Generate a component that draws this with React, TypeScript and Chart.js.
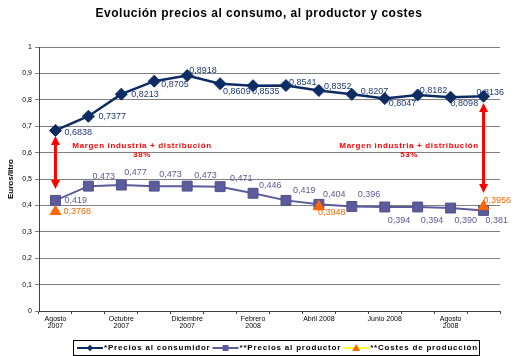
import React, { useEffect, useRef } from 'react';
import { Chart, registerables } from 'chart.js';

Chart.register(...registerables);

const FONT = '"Liberation Sans", Arial, sans-serif';

const chartTitle = 'Evolución precios al consumo, al productor y costes';
const yAxisTitle = 'Euros/litro';

const categories: (string | string[])[] = [
  ['Agosto', '2007'], '', ['Octubre', '2007'], '', ['Diciembre', '2007'], '',
  ['Febrero', '2008'], '', 'Abril 2008', '', 'Junio 2008', '', ['Agosto', '2008'], '',
];

const consumerPrices = [0.6838, 0.7377, 0.8213, 0.8705, 0.8918, 0.8609, 0.8535, 0.8541, 0.8352, 0.8207, 0.8047, 0.8182, 0.8098, 0.8136];
const producerPrices = [0.419, 0.473, 0.477, 0.473, 0.473, 0.471, 0.446, 0.419, 0.404, 0.396, 0.394, 0.394, 0.390, 0.381];
const productionCosts = [0.3768, null, null, null, null, null, null, null, 0.3948, null, null, null, null, 0.3956];

const seriesNames = ['*Precios al consumidor', '**Precios al productor', '**Costes de producción'];

const yMin = 0;
const yMax = 1;
const yStep = 0.1;

const marginNotes = [
  { index: 0, top: 0.663, bottom: 0.462, textIndex: 2.63, textValue: 0.625, label: 'Margen industria + distribución', pct: '38%' },
  { index: 13, top: 0.788, bottom: 0.447, textIndex: 10.74, textValue: 0.627, label: 'Margen industria + distribución', pct: '53%' },
];

// styling: label offsets (dx to text start, dy to text middle) relative to each point
const consumerLabelOffsets = [[9, 2], [10, 0], [10, 0], [7, 3], [2, -5], [3, 8], [-1, 6], [3, -3], [5, -4], [9, -3], [4, 5], [2, -4], [0, 6], [-7, -4]];
const producerLabelOffsets = [[9, 0], [4, -10], [3, -13], [5, -12], [7, -11], [10, -8], [6, -8], [7, -10], [4, -10], [6, -12], [3, 14], [3, 14], [4, 12], [2, 10]];
const costLabelOffsets = [[8, 0], null, null, null, null, null, null, null, [-1, 6], null, null, null, null, [0, -6]];

const COL_CONS = '#0c2c63';
const COL_PROD = '#5c5c9c';
const COL_COST_LINE = '#ffff33';
const COL_COST = '#ff6600';
const COL_RED = '#ff0000';

const labelStyles = [
  { color: '#1e3a73', decimals: 4, offsets: consumerLabelOffsets },
  { color: '#5a5a98', decimals: 3, offsets: producerLabelOffsets },
  { color: '#ff6600', decimals: 4, offsets: costLabelOffsets },
];

const fmt = (v: number, d: number) => v.toFixed(d).replace('.', ',');

const pointLabelsPlugin = {
  id: 'pointLabels',
  afterDatasetsDraw(chart: any) {
    const ctx = chart.ctx;
    ctx.save();
    ctx.font = `9px ${FONT}`;
    ctx.textAlign = 'left';
    ctx.textBaseline = 'middle';
    chart.data.datasets.forEach((ds: any, di: number) => {
      const meta = chart.getDatasetMeta(di);
      const st = labelStyles[di];
      meta.data.forEach((pt: any, i: number) => {
        const v = ds.data[i];
        const off = st.offsets[i];
        if (v == null || !off) return;
        ctx.fillStyle = st.color;
        ctx.fillText(fmt(v, st.decimals), pt.x + off[0], pt.y + off[1]);
      });
    });
    ctx.restore();
  },
};

function drawDoubleArrow(ctx: CanvasRenderingContext2D, x: number, yTop: number, yBot: number) {
  const head = 9;
  const hw = 4.5;
  ctx.strokeStyle = COL_RED;
  ctx.fillStyle = COL_RED;
  ctx.lineWidth = 3;
  ctx.beginPath();
  ctx.moveTo(x, yTop + head - 1);
  ctx.lineTo(x, yBot - head + 1);
  ctx.stroke();
  ctx.beginPath();
  ctx.moveTo(x, yTop);
  ctx.lineTo(x - hw, yTop + head);
  ctx.lineTo(x + hw, yTop + head);
  ctx.closePath();
  ctx.fill();
  ctx.beginPath();
  ctx.moveTo(x, yBot);
  ctx.lineTo(x - hw, yBot - head);
  ctx.lineTo(x + hw, yBot - head);
  ctx.closePath();
  ctx.fill();
}

const annotationsPlugin = {
  id: 'marginNotes',
  afterDatasetsDraw(chart: any) {
    const ctx = chart.ctx as CanvasRenderingContext2D;
    const xs = chart.scales.x;
    const ys = chart.scales.y;
    ctx.save();
    marginNotes.forEach((n) => {
      const x = xs.getPixelForValue(n.index);
      drawDoubleArrow(ctx, x, ys.getPixelForValue(n.top), ys.getPixelForValue(n.bottom));
      const tx = xs.getPixelForValue(n.textIndex);
      const ty = ys.getPixelForValue(n.textValue);
      ctx.fillStyle = COL_RED;
      ctx.font = `bold 8px ${FONT}`;
      (ctx as any).letterSpacing = '0.65px';
      ctx.textAlign = 'center';
      ctx.textBaseline = 'middle';
      ctx.fillText(n.label, tx, ty);
      ctx.fillText(n.pct, tx, ty + 9);
    });
    ctx.restore();
  },
};

function drawMarker(ctx: CanvasRenderingContext2D, kind: string, x: number, y: number, color: string) {
  ctx.fillStyle = color;
  ctx.beginPath();
  if (kind === 'rectRot') {
    const r = 3.2;
    ctx.moveTo(x, y - r); ctx.lineTo(x + r, y); ctx.lineTo(x, y + r); ctx.lineTo(x - r, y);
  } else if (kind === 'rect') {
    ctx.rect(x - 3, y - 3, 6, 6);
  } else {
    ctx.moveTo(x, y - 4); ctx.lineTo(x + 4, y + 3); ctx.lineTo(x - 4, y + 3);
  }
  ctx.closePath();
  ctx.fill();
}

const titleLegendPlugin = {
  id: 'titleLegend',
  afterDraw(chart: any) {
    const ctx = chart.ctx as CanvasRenderingContext2D;
    ctx.save();
    ctx.fillStyle = '#000';
    ctx.font = `bold 12px ${FONT}`;
    (ctx as any).letterSpacing = '0.5px';
    ctx.textAlign = 'center';
    ctx.textBaseline = 'middle';
    ctx.fillText(chartTitle, 259, 14);
    const items = chart.data.datasets.map((ds: any) => ({
      text: ds.label,
      line: ds.legendLine,
      marker: ds.pointStyle,
      mcolor: ds.pointBackgroundColor,
    }));
    const top = 340.5, h = 15, left = 73.5, right = 479.5;
    ctx.strokeStyle = '#000';
    ctx.lineWidth = 1;
    ctx.strokeRect(left, top, right - left, h);
    const cy = top + h / 2;
    ctx.font = `bold 8px ${FONT}`;
    (ctx as any).letterSpacing = '0.8px';
    ctx.textAlign = 'left';
    let x = 77;
    items.forEach((it: any) => {
      ctx.strokeStyle = it.line;
      ctx.lineWidth = 2;
      ctx.beginPath();
      ctx.moveTo(x, cy);
      ctx.lineTo(x + 26, cy);
      ctx.stroke();
      drawMarker(ctx, it.marker, x + 13, cy, it.mcolor);
      ctx.fillStyle = '#000';
      ctx.fillText(it.text, x + 27, cy);
      x += 27 + ctx.measureText(it.text).width + 2;
    });
    ctx.restore();
  },
};

export default function App() {
  const ref = useRef<HTMLCanvasElement | null>(null);
  useEffect(() => {
    if (!ref.current) return;
    Chart.defaults.font.family = FONT;
    const chart = new Chart(ref.current, {
      type: 'line',
      data: {
        labels: categories,
        datasets: [
          {
            label: seriesNames[0],
            data: consumerPrices,
            borderColor: COL_CONS,
            backgroundColor: COL_CONS,
            pointStyle: 'rectRot',
            pointRadius: 6,
            pointBackgroundColor: COL_CONS,
            pointBorderColor: COL_CONS,
            pointBorderWidth: 1,
            borderWidth: 2.5,
            order: 2,
            legendLine: COL_CONS,
          } as any,
          {
            label: seriesNames[1],
            data: producerPrices,
            borderColor: COL_PROD,
            backgroundColor: COL_PROD,
            pointStyle: 'rect',
            pointRadius: 7,
            pointBackgroundColor: COL_PROD,
            pointBorderColor: '#4f4f8a',
            pointBorderWidth: 1,
            borderWidth: 2,
            order: 1,
            legendLine: COL_PROD,
          } as any,
          {
            label: seriesNames[2],
            data: productionCosts,
            borderColor: COL_COST_LINE,
            backgroundColor: COL_COST,
            pointStyle: 'triangle',
            pointRadius: 7,
            pointBackgroundColor: COL_COST,
            pointBorderColor: COL_COST,
            pointBorderWidth: 0,
            borderWidth: 2,
            spanGaps: false,
            order: 0,
            legendLine: COL_COST_LINE,
          } as any,
        ],
      },
      options: {
        animation: false,
        responsive: false,
        devicePixelRatio: 1,
        layout: { padding: { top: 47, right: 20, left: 0, bottom: 0 } },
        plugins: {
          legend: { display: false },
          title: { display: false },
          tooltip: { enabled: false },
        },
        elements: { line: { tension: 0 } },
        scales: {
          x: {
            type: 'category',
            offset: true,
            afterFit: (s: any) => { s.height = 45; },
            grid: { display: true, drawOnChartArea: false, offset: true, tickLength: 3, color: '#404040' },
            border: { display: true, color: '#404040', width: 1 },
            ticks: {
              autoSkip: false,
              maxRotation: 0,
              padding: 1,
              color: '#000',
              font: { size: 7, lineHeight: 1.05 },
            },
          },
          y: {
            min: yMin,
            max: yMax,
            afterFit: (s: any) => { s.width = 39; },
            grid: { color: '#808080', lineWidth: 1, tickLength: 4 },
            border: { display: true, color: '#404040', width: 1 },
            ticks: {
              stepSize: yStep,
              padding: 3,
              color: '#000',
              font: { size: 7 },
              callback: (v: any) => (v === 0 ? '0' : v === 1 ? '1' : fmt(Number(v), 1)),
            },
            title: {
              display: true,
              text: yAxisTitle,
              color: '#000',
              font: { size: 8, weight: 'bold' },
              padding: { top: 6, bottom: 0 },
            },
          },
        },
      },
      plugins: [pointLabelsPlugin, annotationsPlugin, titleLegendPlugin],
    });
    return () => chart.destroy();
  }, []);
  return (
    <div style={{ position: 'absolute', left: 0, top: 0, width: 520, height: 356, background: '#fff' }}>
      <canvas ref={ref} width={520} height={356} />
    </div>
  );
}
